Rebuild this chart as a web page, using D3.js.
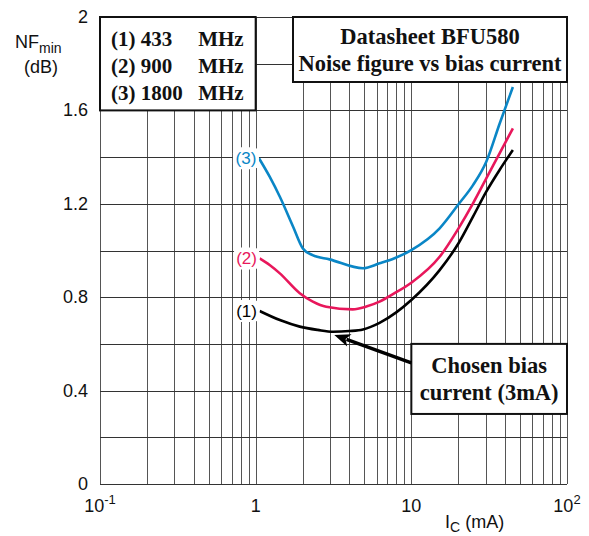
<!DOCTYPE html>
<html>
<head>
<meta charset="utf-8">
<script src="https://cdn.jsdelivr.net/npm/d3@7"></script>
<style>
  html, body { margin: 0; padding: 0; background: #fff; }
  svg { display: block; }
  .sans { font-family: "Liberation Sans", Arial, sans-serif; }
  .serif { font-family: "Liberation Serif", "Times New Roman", serif; font-weight: bold; }
</style>
</head>
<body>
<svg id="chart" width="589" height="536"></svg>
<script>
// Minimum noise figure of the BFU580 versus collector current, per frequency.
const frequencyLabels = ["(1) 433", "(2) 900", "(3) 1800"];
const curveTags = ["(1)", "(2)", "(3)"];
const curveColors = ["#000000", "#e8175b", "#0a86c6"];

// Collector current, mA
const icNF433  = [1.06, 1.43, 1.92, 2.5, 3.14, 4.0, 4.89, 6.25, 8.0, 10, 15.2, 20.1, 24.9, 30.3, 36.9, 44.9];
const nf433    = [0.741, 0.702, 0.674, 0.66, 0.652, 0.655, 0.662, 0.69, 0.735, 0.788, 0.916, 1.031, 1.145, 1.252, 1.345, 1.43];

const icNF900  = [1.06, 1.23, 1.43, 1.92, 2.33, 2.84, 4.2, 5.14, 6.25, 7.8, 10, 15.2, 20.1, 24.9, 30.3, 36.9, 44.9];
const nf900    = [0.966, 0.938, 0.902, 0.817, 0.781, 0.759, 0.748, 0.76, 0.781, 0.817, 0.862, 0.973, 1.095, 1.202, 1.309, 1.416, 1.523];

const icNF1800 = [1.05, 1.23, 1.43, 1.74, 2.01, 2.32, 2.98, 4.89, 6.25, 7.8, 10, 15.2, 20.1, 24.9, 30.3, 36.9, 44.9];
const nf1800   = [1.395, 1.316, 1.23, 1.102, 1.009, 0.98, 0.962, 0.924, 0.945, 0.967, 1.002, 1.095, 1.198, 1.28, 1.38, 1.543, 1.70];

const yTickValues = [0, 0.4, 0.8, 1.2, 1.6, 2];
const yTickLabels = ["0", "0.4", "0.8", "1.2", "1.6", "2"];
const xTickValues = [0.1, 1, 10, 100];
const xTickBase = ["10", "1", "10", "10"];
const xTickExp = ["-1", "", "", "2"];

const titleLines = ["Datasheet BFU580", "Noise figure vs bias current"];
const noteLines = ["Chosen bias", "current (3mA)"];
const chosenCurrent = 3.2;   // arrow tip, mA
const chosenNF = 0.638;

const svg = d3.select("#chart");
const plot = { left: 100, right: 567, top: 17, bottom: 484 };

const x = d3.scaleLog().domain([0.1, 100]).range([plot.left, plot.right]);
const y = d3.scaleLinear().domain([0, 2]).range([plot.bottom, plot.top]);

// Grid: every 1..9 per decade vertically, every 0.2 dB horizontally
const decadeLines = [];
[0.1, 1, 10].forEach(d => { for (let k = 1; k <= 9; k++) decadeLines.push(d * k); });
decadeLines.push(100);

const grid = svg.append("g");
grid.selectAll("line.v").data(decadeLines).join("line")
  .attr("x1", d => Math.round(x(d)) + 0.5).attr("x2", d => Math.round(x(d)) + 0.5)
  .attr("y1", plot.top).attr("y2", plot.bottom)
  .attr("stroke", "#555").attr("stroke-width", 1);
grid.selectAll("line.h").data(d3.range(0, 2.0001, 0.2)).join("line")
  .attr("x1", plot.left).attr("x2", plot.right)
  .attr("y1", d => Math.round(y(d)) + 0.5).attr("y2", d => Math.round(y(d)) + 0.5)
  .attr("stroke", "#333").attr("stroke-width", 1);

// Axis tick labels
svg.append("g").selectAll("text").data(yTickValues).join("text")
  .attr("class", "sans").attr("x", 88).attr("y", d => y(d) + 6)
  .attr("text-anchor", "end").attr("font-size", 18).attr("fill", "#111")
  .text((d, i) => yTickLabels[i]);

const xt = svg.append("g").selectAll("text").data(xTickValues).join("text")
  .attr("class", "sans").attr("y", 512).attr("font-size", 18).attr("fill", "#111")
  .attr("x", d => x(d))
  .attr("text-anchor", "middle");
xt.append("tspan").text((d, i) => xTickBase[i]);
xt.append("tspan").attr("dy", -8).attr("font-size", 13).text((d, i) => xTickExp[i]);

// Axis titles
const yTitle = svg.append("text").attr("class", "sans").attr("x", 15).attr("y", 48)
  .attr("font-size", 18).attr("fill", "#111");
yTitle.append("tspan").text("NF");
yTitle.append("tspan").attr("dy", 5).attr("font-size", 14).text("min");
svg.append("text").attr("class", "sans").attr("x", 41).attr("y", 73)
  .attr("text-anchor", "middle").attr("font-size", 18).attr("fill", "#111").text("(dB)");

const xTitle = svg.append("text").attr("class", "sans").attr("x", 445).attr("y", 528)
  .attr("font-size", 18).attr("fill", "#111");
xTitle.append("tspan").text("I");
xTitle.append("tspan").attr("dy", 4).attr("font-size", 14).text("C");
xTitle.append("tspan").attr("dy", -4).text(" (mA)");

// Curves
const seriesIc = [icNF433, icNF900, icNF1800];
const seriesNF = [nf433, nf900, nf1800];
const line = d3.line().x(d => x(d[0])).y(d => y(d[1])).curve(d3.curveMonotoneX);

seriesIc.forEach((ic, s) => {
  const pts = ic.map((c, i) => [c, seriesNF[s][i]]);
  svg.append("path").datum(pts).attr("d", line)
    .attr("fill", "none").attr("stroke", curveColors[s])
    .attr("stroke-width", 2.6).attr("stroke-linejoin", "round").attr("stroke-linecap", "butt");

  // Curve tag just left of the first point
  const tx = x(ic[0]) - 13, ty = y(seriesNF[s][0]);
  svg.append("rect").attr("x", tx - 13).attr("y", ty - 11).attr("width", 26).attr("height", 22)
    .attr("rx", 6).attr("fill", "#fff");
  svg.append("text").attr("class", "sans").attr("x", tx).attr("y", ty + 6)
    .attr("text-anchor", "middle").attr("font-size", 17).attr("fill", curveColors[s])
    .text(curveTags[s]);
});

// Frequency legend box
const lgX0 = x(0.1), lgX1 = x(1), lgY0 = y(2), lgY1 = y(1.6);
svg.append("rect").attr("x", lgX0).attr("y", lgY0).attr("width", lgX1 - lgX0).attr("height", lgY1 - lgY0)
  .attr("fill", "#fff").attr("stroke", "#111").attr("stroke-width", 2);
frequencyLabels.forEach((t, i) => {
  const by = lgY0 + 29 + i * 27;
  svg.append("text").attr("class", "serif").attr("x", lgX0 + 11).attr("y", by)
    .attr("font-size", 21).attr("fill", "#111").text(t);
  svg.append("text").attr("class", "serif").attr("x", lgX1 - 12).attr("y", by)
    .attr("text-anchor", "end").attr("font-size", 21).attr("fill", "#111").text("MHz");
});

// Title box
const tb = { x0: 293, x1: plot.right, y0: plot.top, y1: 82 };
svg.append("rect").attr("x", tb.x0).attr("y", tb.y0).attr("width", tb.x1 - tb.x0).attr("height", tb.y1 - tb.y0)
  .attr("fill", "#fff").attr("stroke", "#111").attr("stroke-width", 2);
titleLines.forEach((t, i) => {
  svg.append("text").attr("class", "serif").attr("x", (tb.x0 + tb.x1) / 2).attr("y", 44 + i * 27)
    .attr("text-anchor", "middle").attr("font-size", 22.5).attr("fill", "#111").text(t);
});

// Annotation box with arrow to the chosen operating point
const nb = { x0: x(10), x1: x(100), y0: y(0.6), y1: y(0.3) };
svg.append("rect").attr("x", nb.x0).attr("y", nb.y0).attr("width", nb.x1 - nb.x0).attr("height", nb.y1 - nb.y0)
  .attr("fill", "#fff").attr("stroke", "#111").attr("stroke-width", 2);
noteLines.forEach((t, i) => {
  svg.append("text").attr("class", "serif").attr("x", (nb.x0 + nb.x1) / 2).attr("y", nb.y0 + 29 + i * 27)
    .attr("text-anchor", "middle").attr("font-size", 22.5).attr("fill", "#111").text(t);
});

const ax0 = nb.x0, ay0 = nb.y0 + 19;
const ax1 = x(chosenCurrent), ay1 = y(chosenNF);
const ang = Math.atan2(ay1 - ay0, ax1 - ax0);
const headLen = 16, headW = 6.5;
const bx = ax1 - headLen * Math.cos(ang), by = ay1 - headLen * Math.sin(ang);
svg.append("line").attr("x1", ax0).attr("y1", ay0).attr("x2", bx + 3 * Math.cos(ang)).attr("y2", by + 3 * Math.sin(ang))
  .attr("stroke", "#000").attr("stroke-width", 3.5);
svg.append("path")
  .attr("d", `M${ax1},${ay1} L${bx - headW * Math.sin(ang)},${by + headW * Math.cos(ang)} L${bx + 4 * Math.cos(ang)},${by + 4 * Math.sin(ang)} L${bx + headW * Math.sin(ang)},${by - headW * Math.cos(ang)} Z`)
  .attr("fill", "#000");
</script>
</body>
</html>
